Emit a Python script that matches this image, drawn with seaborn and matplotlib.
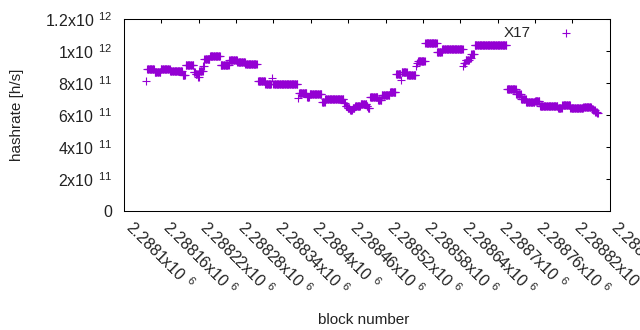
import numpy as np
import pandas as pd
import matplotlib
matplotlib.use("Agg")
import matplotlib.pyplot as plt
import seaborn as sns

# runs of consecutive blocks sharing the same estimated hashrate (x1e12 h/s)
run_start = [2288135, 2288137, 2288149, 2288159, 2288174, 2288194, 2288199, 2288212,
             2288215, 2288219, 2288221, 2288227, 2288229, 2288238, 2288255, 2288269,
             2288282, 2288295, 2288315, 2288327, 2288338, 2288340, 2288380, 2288381,
             2288394, 2288398, 2288418, 2288423, 2288453, 2288456, 2288459, 2288463,
             2288467, 2288471, 2288480, 2288490, 2288492, 2288495, 2288508, 2288514,
             2288527, 2288537, 2288545, 2288546, 2288555, 2288569, 2288571, 2288572,
             2288584, 2288603, 2288611, 2288645, 2288646, 2288649, 2288655, 2288658,
             2288663, 2288715, 2288730, 2288738, 2288746, 2288760, 2288768, 2288797,
             2288804, 2288817, 2288838, 2288851, 2288854, 2288857, 2288860]
run_end = [2288135, 2288148, 2288158, 2288173, 2288193, 2288198, 2288211, 2288214,
           2288218, 2288220, 2288226, 2288228, 2288237, 2288254, 2288268, 2288281,
           2288294, 2288313, 2288326, 2288336, 2288338, 2288378, 2288380, 2288393,
           2288397, 2288417, 2288422, 2288452, 2288455, 2288458, 2288462, 2288466,
           2288470, 2288479, 2288489, 2288491, 2288494, 2288507, 2288513, 2288526,
           2288536, 2288544, 2288545, 2288554, 2288568, 2288569, 2288571, 2288583,
           2288602, 2288610, 2288644, 2288645, 2288648, 2288654, 2288657, 2288662,
           2288714, 2288729, 2288737, 2288745, 2288759, 2288767, 2288796, 2288803,
           2288816, 2288837, 2288850, 2288853, 2288856, 2288859, 2288861]
run_value = [0.811, 0.886, 0.870, 0.891, 0.879, 0.853, 0.913, 0.872,
             0.858, 0.836, 0.877, 0.906, 0.954, 0.969, 0.911, 0.948,
             0.931, 0.918, 0.8125, 0.798, 0.831, 0.798, 0.710, 0.737,
             0.712, 0.731, 0.680, 0.698, 0.675, 0.660, 0.645, 0.632,
             0.645, 0.658, 0.667, 0.655, 0.642, 0.714, 0.694, 0.725,
             0.746, 0.856, 0.819, 0.871, 0.854, 0.906, 0.927, 0.9375,
             1.054, 0.996, 1.017, 0.908, 0.925, 0.945, 0.960, 0.985,
             1.036, 0.761, 0.732, 0.700, 0.681, 0.690, 0.655, 0.646,
             0.663, 0.645, 0.648, 0.638, 0.630, 0.622, 0.615]

x_ticks = [2288100, 2288160, 2288220, 2288280, 2288340, 2288400, 2288460,
           2288520, 2288580, 2288640, 2288700, 2288760, 2288820, 2288880]
x_tick_labels = ["2.2881x10$\\ ^{6}$", "2.28816x10$\\ ^{6}$", "2.28822x10$\\ ^{6}$",
                 "2.28828x10$\\ ^{6}$", "2.28834x10$\\ ^{6}$", "2.2884x10$\\ ^{6}$",
                 "2.28846x10$\\ ^{6}$", "2.28852x10$\\ ^{6}$", "2.28858x10$\\ ^{6}$",
                 "2.28864x10$\\ ^{6}$", "2.2887x10$\\ ^{6}$", "2.28876x10$\\ ^{6}$",
                 "2.28882x10$\\ ^{6}$", "2.28888x10$\\ ^{6}$"]
y_ticks = [0, 2e11, 4e11, 6e11, 8e11, 1e12, 1.2e12]
y_tick_labels = ["0", "2x10$\\ ^{11}$", "4x10$\\ ^{11}$", "6x10$\\ ^{11}$",
                 "8x10$\\ ^{11}$", "1x10$\\ ^{12}$", "1.2x10$\\ ^{12}$"]
series_name = "X17"

blocks = np.concatenate([np.arange(s, e + 1) for s, e in zip(run_start, run_end)])
rates = np.concatenate([np.full(e - s + 1, v * 1e12)
                        for s, e, v in zip(run_start, run_end, run_value)])
df = pd.DataFrame({"block": blocks, "hashrate": rates})

sns.set_theme(style="white")
plt.rcParams["font.family"] = ["Liberation Sans", "DejaVu Sans"]
plt.rcParams["mathtext.fontset"] = "custom"
plt.rcParams["mathtext.rm"] = "Liberation Sans"
plt.rcParams["mathtext.default"] = "regular"
plt.rcParams["font.size"] = 11

fig = plt.figure(figsize=(6.4, 3.3), dpi=100)
L, R, T, B = 124.1, 609.6, 19.3, 211.0
ax = fig.add_axes([L / 640, 1 - B / 330, (R - L) / 640, (B - T) / 330])

sns.scatterplot(data=df, x="block", y="hashrate", marker="+", s=26,
                linewidth=0.8, color="#9400D3", ax=ax, label=series_name)

ax.set_xlim(2288100, 2288880)
ax.set_ylim(0, 1.2e12)
ax.set_xticks(x_ticks)
ax.set_xticklabels(x_tick_labels, rotation=-45, ha="left", va="baseline",
                   rotation_mode="anchor", fontsize=11.5, color="#222222")
ax.set_yticks(y_ticks)
ax.set_yticklabels(y_tick_labels, fontsize=11.5, color="#222222")
ax.tick_params(axis="both", direction="in", length=3, width=0.75,
               top=True, right=True, color="black")
ax.tick_params(axis="y", pad=8.5)
ax.tick_params(axis="x", pad=12.5)
for sp in ax.spines.values():
    sp.set_color("black")
    sp.set_linewidth(0.75)
ax.set_xlabel("")
ax.set_ylabel("")

fig.text(364 / 640, 1 - 320 / 330, "block number", ha="center", va="center",
         fontsize=11, color="#222222")
fig.text(17 / 640, 1 - 115 / 330, "hashrate [h/s]", ha="center", va="center",
         rotation=90, fontsize=11, color="#222222")

ax.legend(loc="center right", bbox_to_anchor=(0.942, 0.930), markerfirst=False,
          frameon=False, borderpad=0, borderaxespad=0, handlelength=2,
          handletextpad=1.34, fontsize=11, scatterpoints=1)

fig.savefig("out.png", dpi=100)
